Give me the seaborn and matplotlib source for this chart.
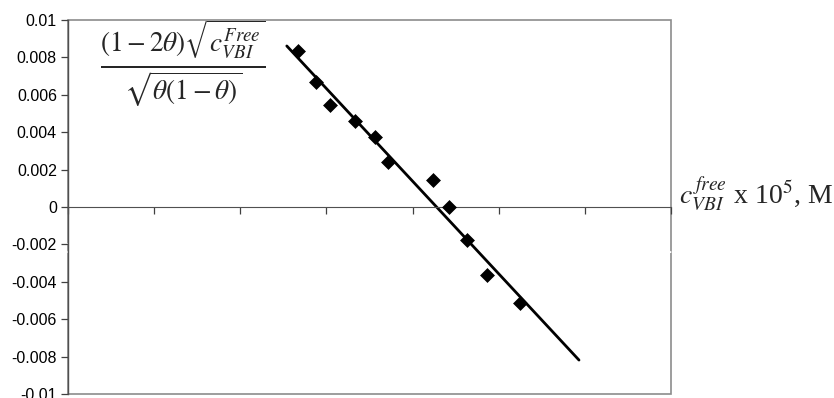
import numpy as np
import pandas as pd
import seaborn as sns
import matplotlib.pyplot as plt
from matplotlib.patches import Rectangle

# data
c_free = [1.335, 1.439, 1.521, 1.666, 1.782, 1.857, 2.118, 2.211, 2.316, 2.432, 2.622]
y_val = [0.00834, 0.00669, 0.00546, 0.00460, 0.00374, 0.00241,
         0.00144, 0.00000, -0.00177, -0.00364, -0.00513]
trend_range = [1.27, 2.966]
x_ticks = [0, 0.5, 1, 1.5, 2, 2.5, 3, 3.5]
y_ticks = [-0.01, -0.008, -0.006, -0.004, -0.002, 0, 0.002, 0.004, 0.006, 0.008, 0.01]
y_tick_labels = ['-0.01', '-0.008', '-0.006', '-0.004', '-0.002', '0',
                 '0.002', '0.004', '0.006', '0.008', '0.01']

df = pd.DataFrame({'x': c_free, 'y': y_val})

sns.set_style('white')
plt.rcParams['font.family'] = ['Liberation Sans', 'DejaVu Sans']
plt.rcParams['mathtext.fontset'] = 'stix'

fig = plt.figure(figsize=(8.34, 3.98), dpi=100)
ax = fig.add_axes([68 / 834, 1 - 394 / 398, 603 / 834, 374 / 398])

sns.scatterplot(data=df, x='x', y='y', ax=ax, marker='D', s=50,
                color='black', edgecolor='black', linewidth=0.5, zorder=3)

# linear trend line, extended like the spreadsheet trendline
k, b = np.polyfit(df['x'], df['y'], 1)
tx = np.array(trend_range)
ax.plot(tx, k * tx + b, color='black', lw=2.0, zorder=2)

ax.set_xlim(x_ticks[0], x_ticks[-1])
ax.set_ylim(-0.01, 0.01)
ax.set_xticks(x_ticks)
ax.set_xticklabels([f'{t:g}' for t in x_ticks], fontsize=11)
ax.set_yticks(y_ticks)
ax.set_yticklabels(y_tick_labels, fontsize=11.5)

# axes crossing at zero, gray frame round the plot area
for side in ['top', 'right']:
    ax.spines[side].set_visible(False)
ax.spines['bottom'].set_position(('data', 0))
ax.spines['bottom'].set_color('#505050')
ax.spines['left'].set_color('#505050')
ax.spines['left'].set_linewidth(1.0)
ax.add_patch(Rectangle((0, 0), 1, 1, transform=ax.transAxes, fill=False,
                       edgecolor='#8c8c8c', lw=1.2, clip_on=False, zorder=0))
# x labels are white in the original, so they only show where they cross marks
ax.tick_params(axis='x', bottom=True, direction='out', length=5, width=0.9,
               color='#404040', pad=20, labelcolor='white')
ax.tick_params(axis='y', left=True, direction='out', length=5, width=0.9,
               color='#404040', pad=3, labelcolor='black')
ax.set_xlabel('')
ax.set_ylabel('')

ax.text(0.19, 0.885,
        r'$\frac{\left(1-2\theta\right)\sqrt{c_{VBI}^{Free}}}{\sqrt{\theta\left(1-\theta\right)}}$',
        transform=ax.transAxes, ha='center', va='center', fontsize=28)
ax.text(1.013, 0.535, r'$c_{VBI}^{\,free}$' + r' x 10$^5$, M',
        transform=ax.transAxes, ha='left', va='center', fontsize=20,
        family='Liberation Serif')

fig.savefig('out.png', dpi=100)
